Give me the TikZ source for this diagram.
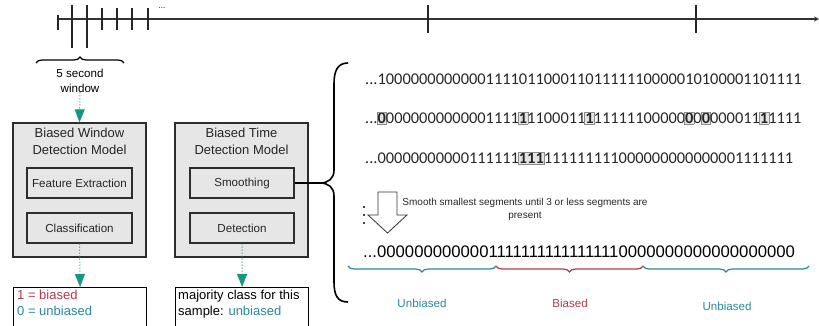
\documentclass[tikz,border=0pt]{standalone}
\usepackage{fontspec}
\setmainfont{Liberation Sans}
\newfontfamily\calib{Carlito}
\usetikzlibrary{arrows.meta,decorations.pathreplacing}
\definecolor{tealtxt}{RGB}{45,135,160}
\definecolor{redtxt}{RGB}{175,60,75}
\definecolor{arrowteal}{RGB}{25,150,130}
\definecolor{boxgray}{RGB}{230,230,230}
\definecolor{digbox}{RGB}{228,228,228}
\definecolor{digedge}{RGB}{140,140,140}
\definecolor{edge}{RGB}{45,45,45}
\newcommand\bxd[1]{{\setlength{\fboxsep}{0.3pt}\setlength{\fboxrule}{0.7pt}\hspace{-1pt}\fcolorbox{digedge}{digbox}{\textbf{#1}}\hspace{-1pt}}}
\tikzset{
  outer/.style={draw=edge, fill=boxgray, line width=1.3pt, minimum width=133pt, minimum height=134pt, inner sep=0pt},
  innerbox/.style={draw=edge, fill=boxgray, line width=1.3pt, minimum width=105pt, minimum height=30pt, inner sep=0pt, font=\fontsize{11.6}{14}\selectfont, text=black!85},
  title/.style={align=center, font=\fontsize{13}{17}\selectfont, text=black!85},
  outbox/.style={draw=black, fill=white, line width=1.2pt, minimum width=133pt, minimum height=50pt, inner sep=0pt, anchor=north west},
  outtext/.style={align=left, anchor=north west, font=\fontsize{13}{16}\selectfont, inner sep=0pt},
  dotarrow/.style={arrowteal, dotted, line width=1pt, -{Triangle[width=10pt,length=13pt]}},
  binrow/.style={anchor=west, inner sep=0pt, font=\calib\fontsize{16.4}{18}\selectfont, text=black!85},
  tick/.style={line width=1.3pt, draw=black!85},
  smallbrace/.style={decorate, decoration={brace, amplitude=6pt}, line width=1.2pt},
  lbl/.style={font=\fontsize{11.6}{14}\selectfont},
}
\begin{document}
\begin{tikzpicture}[x=1pt,y=-1pt]
\useasboundingbox (0,0) rectangle (819,325);
\clip (0,0) rectangle (819,325);

% timeline
\coordinate (t0) at (58,19);
\coordinate (t1) at (819,19);
\draw[line width=1.2pt, draw=black!80, -{Stealth[length=5pt,width=5pt]}] (t0) -- (t1);
\draw[tick] (58,15) -- (58,30);
\draw[tick] (72,5) -- (72,48);
\draw[tick] (87,5) -- (87,48);
\foreach \x in {102,117,132,148} \draw[tick] (\x,8) -- (\x,30);
\draw[tick] (428,5) -- (428,33);
\draw[tick] (696,5) -- (696,33);
\node[font=\fontsize{8}{8}\selectfont, inner sep=0pt] (dots) at (162,8) {...};

% small brace and window label
\draw[smallbrace] (36,63) -- (124,63);
\node[align=center, font=\fontsize{11.6}{15}\selectfont, inner sep=0pt] (win) at (80,80.5) {5 second\\window};

% left model
\node[outer] (bw) at (79.5,190) {};
\node[title] (bwt) at (79.5,141.5) {Biased Window\\Detection Model};
\node[innerbox] (fe) at (79.5,183) {Feature Extraction};
\node[innerbox] (cl) at (79.5,228) {Classification};

% right model
\node[outer] (bt) at (241.5,190) {};
\node[title] (btt) at (241.5,141.5) {Biased Time\\Detection Model};
\node[innerbox, minimum width=104pt] (sm) at (242,183) {Smoothing};
\node[innerbox, minimum width=104pt] (dt) at (242,228) {Detection};

% outputs
\node[outbox] (o1) at (13,287) {};
\node[outtext] (o1t) at (17,290) {\textcolor{redtxt}{1 = biased}\\\textcolor{tealtxt}{0 = unbiased}};
\node[outbox] (o2) at (175,287) {};
\node[outtext] (o2t) at (178,290) {majority class for this\\sample: \textcolor{tealtxt}{unbiased}};

% arrows
\draw[dotarrow] (win.south) -- (bw.north);
\draw[dotarrow] (cl.south) -- (o1.north);
\draw[dotarrow] (dt.south) -- (o2.north);

% big brace
\coordinate (tip) at (320,183);
\draw[line width=1.3pt] (sm.east) -- (tip);
\draw[line width=1.6pt, line join=round] (348,63) .. controls (338,63) and (334,70) .. (334,84) -- (334,170) .. controls (334,179) and (328,183) .. (tip) .. controls (328,183) and (334,187) .. (334,196) -- (334,282) .. controls (334,296) and (338,302) .. (348,302);

% binary rows
\node[binrow] (r1) at (365,79) {...100000000000011110110001101111110000010100001101111};
\node[binrow] (r2) at (365,118) {...\bxd{0}0000000000001111\bxd{1}1100011\bxd{1}11111100000\bxd{0}0\bxd{0}000011\bxd{1}1111};
\node[binrow] (r3) at (365,158) {...00000000000111111\bxd{111}111111111000000000000001111111};

% smoothing arrow
\draw[fill=white, draw=black!80, line width=0.8pt, line join=miter] (378,192) -- (397,192) -- (397,215) -- (407,215) -- (387.5,233) -- (368,215) -- (378,215) -- cycle;
\foreach \y in {207,215,223} \fill[black] (364,\y) circle (1.2pt);
\node[align=center, font=\fontsize{10}{13}\selectfont, text=black!85] (smtxt) at (525,209.5) {Smooth smallest segments until 3 or less segments are\\present};

% final row
\node[anchor=west, inner sep=0pt, font=\fontsize{16.7}{18}\selectfont] (r4) at (363,252) {...00000000000011111111111111110000000000000000000};

% segment braces
\draw[smallbrace, tealtxt, decoration={mirror}] (348,266) -- (496,266);
\draw[smallbrace, redtxt, decoration={mirror}] (496,266) -- (643,266);
\draw[smallbrace, tealtxt, decoration={mirror}] (643,266) -- (809,266);
\node[lbl, text=tealtxt] (l1) at (422,303) {Unbiased};
\node[lbl, text=redtxt] (l2) at (570,303) {Biased};
\node[lbl, text=tealtxt] (l3) at (727,306) {Unbiased};
\end{tikzpicture}
\end{document}
